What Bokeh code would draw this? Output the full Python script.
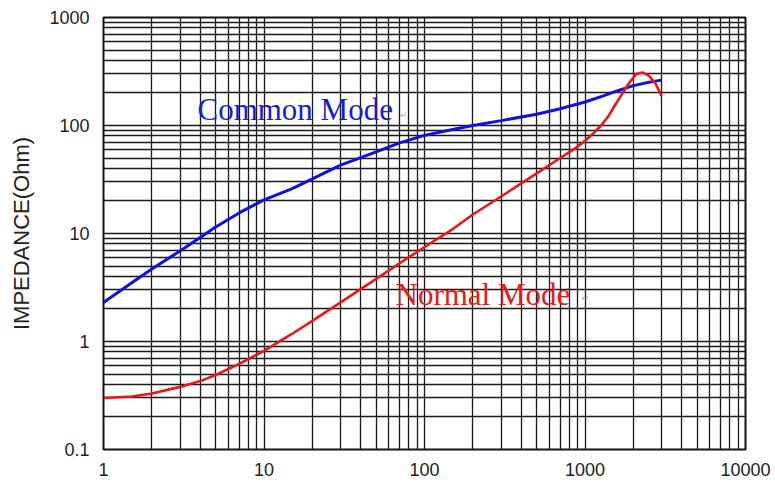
from bokeh.plotting import figure
from bokeh.models import FixedTicker, CustomJSTickFormatter, ColumnDataSource
from bokeh.core.properties import value
from bokeh.embed import file_html
from bokeh.resources import INLINE

# Frequency (x) and impedance (Ohm) of the choke
cm_freq = [1, 1.5, 2, 3, 5, 7, 10, 15, 20, 30, 50, 70, 100, 150, 200, 300,
           500, 700, 1000, 1300, 1600, 2000, 2500, 3000]
cm_imp = [2.3, 3.5, 4.7, 6.9, 11.5, 15.5, 20.5, 26, 32, 43, 57, 69, 81, 92,
          100, 111, 127, 143, 165, 188, 210, 234, 251, 263]

nm_freq = [1, 1.5, 2, 3, 4, 5, 7, 10, 15, 20, 30, 50, 70, 100, 150, 200, 300,
           500, 700, 850, 1000, 1130, 1260, 1400, 1520, 1700, 1860, 2080,
           2280, 2510, 2760, 3000]
nm_imp = [0.30, 0.31, 0.33, 0.38, 0.43, 0.49, 0.62, 0.82, 1.18, 1.55, 2.3,
          3.8, 5.3, 7.5, 11, 15, 22, 36, 50, 60, 72, 85, 100, 122, 150,
          195, 241, 299, 310, 288, 242, 188]

x_ticks = [1, 10, 100, 1000, 10000]
y_ticks = [0.1, 1, 10, 100, 1000]

x_minor = [d * m for d in x_ticks[:-1] for m in range(2, 10)]
y_minor = [d * m for d in y_ticks[:-1] for m in range(2, 10)]

p = figure(width=775, height=489, x_axis_type="log", y_axis_type="log",
           x_range=(1, 10000), y_range=(0.1, 1000),
           output_backend="svg", toolbar_location=None,
           min_border_left=103, min_border_right=30,
           min_border_top=17, min_border_bottom=40)
p.background_fill_color = "white"
p.border_fill_color = "white"
p.outline_line_color = "#111111"
p.outline_line_width = 2

fmt = CustomJSTickFormatter(code="return tick.toString();")
for ax, ticks, minor in ((p.xaxis, x_ticks, x_minor), (p.yaxis, y_ticks, y_minor)):
    ax.ticker = FixedTicker(ticks=ticks, minor_ticks=minor)
    ax.formatter = fmt
    ax.axis_line_color = None
    ax.major_tick_line_color = None
    ax.minor_tick_line_color = None
    ax.major_label_text_font = "Liberation Sans"
    ax.major_label_text_font_size = "18px"
    ax.major_label_text_color = "#222222"

p.xaxis.major_label_standoff = 7
p.yaxis.major_label_standoff = 8

p.yaxis.axis_label = "IMPEDANCE(Ohm)"
p.yaxis.axis_label_text_font = "Liberation Sans"
p.yaxis.axis_label_text_font_size = "22px"
p.yaxis.axis_label_text_font_style = "normal"
p.yaxis.axis_label_text_color = "#222222"
p.yaxis.axis_label_standoff = 12

for g in (p.xgrid, p.ygrid):
    g.grid_line_color = "#1a1a1a"
    g.grid_line_width = 1.3
    g.minor_grid_line_color = "#1a1a1a"
    g.minor_grid_line_width = 1.3

cm_src = ColumnDataSource(dict(x=cm_freq, y=cm_imp))
nm_src = ColumnDataSource(dict(x=nm_freq, y=nm_imp))
p.line("x", "y", source=cm_src, line_color="#1010e0", line_width=3)
p.line("x", "y", source=nm_src, line_color="#ee1515", line_width=2.6)

serif = value("Liberation Serif")
p.text(x=[3.85], y=[140], text=["Common Mode"], text_font=serif,
       text_font_size="31px", text_color="#1a1ad8",
       text_baseline="middle", text_align="left")
p.text(x=[66], y=[2.75], text=["Normal Mode"], text_font=serif,
       text_font_size="31px", text_color="#e81a1a",
       text_baseline="middle", text_align="left")
p.text(x=[70, 950], y=[126, 2.55], text=["\u21b5", "\u21b5"],
       text_font=value("DejaVu Sans"), text_font_size="9px",
       text_color="#aaaaaa", text_baseline="middle", text_align="left")

open("out.html", "w").write(file_html(p, INLINE))
